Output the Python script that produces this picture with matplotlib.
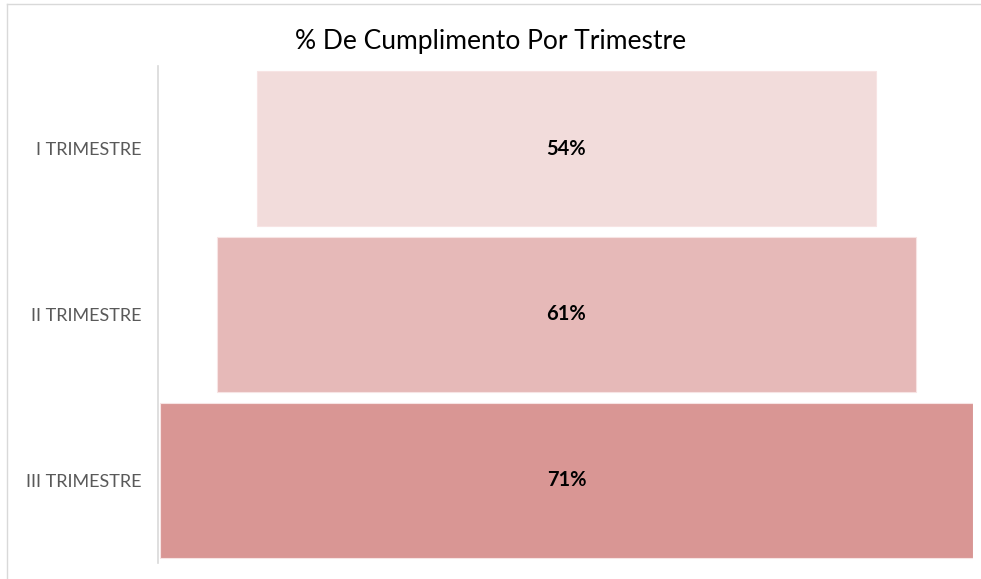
import matplotlib.pyplot as plt
from matplotlib.lines import Line2D

categorias = ["I TRIMESTRE", "II TRIMESTRE", "III TRIMESTRE"]
valores = [54, 61, 71]
colores = ["#F2DCDB", "#E6B9B8", "#D99694"]
titulo = "% De Cumplimento Por Trimestre"

plt.rcParams['font.family'] = ['Lato', 'DejaVu Sans']

fig = plt.figure(figsize=(9.81, 5.79), dpi=100)
ax = fig.add_axes([158 / 981, 1 - 563 / 579, 815 / 981, 497 / 579])

maximo = max(valores)
izq = [(maximo - v) / 2 for v in valores]
ax.barh(range(len(valores)), valores, left=izq, height=0.935,
        color=colores, edgecolor="#F7E4E4", linewidth=0.8)

for i, v in enumerate(valores):
    ax.text(maximo / 2, i, "{}%".format(v), ha="center", va="center",
            fontsize=14.5, fontweight="bold", color="black")

ax.set_xlim(-0.17, maximo)
ax.set_ylim(2.5, -0.5)
ax.set_yticks(range(len(categorias)))
ax.set_yticklabels(categorias, fontsize=13, color="#595959")
ax.tick_params(axis="y", length=0, pad=12)
ax.set_xticks([])
for s in ["top", "right", "bottom"]:
    ax.spines[s].set_visible(False)
ax.spines["left"].set_color("#D9D9D9")
ax.spines["left"].set_linewidth(1.2)

fig.text(0.5, 1 - 41 / 579, titulo, ha="center", va="center",
         fontsize=19, color="black")

# marco del grafico
fig.add_artist(Line2D([7 / 981, 1], [1 - 4 / 579, 1 - 4 / 579],
                      color="#D9D9D9", linewidth=1))
fig.add_artist(Line2D([7 / 981, 7 / 981], [0, 1 - 4 / 579],
                      color="#D9D9D9", linewidth=1))

plt.savefig("out.png", dpi=100)
